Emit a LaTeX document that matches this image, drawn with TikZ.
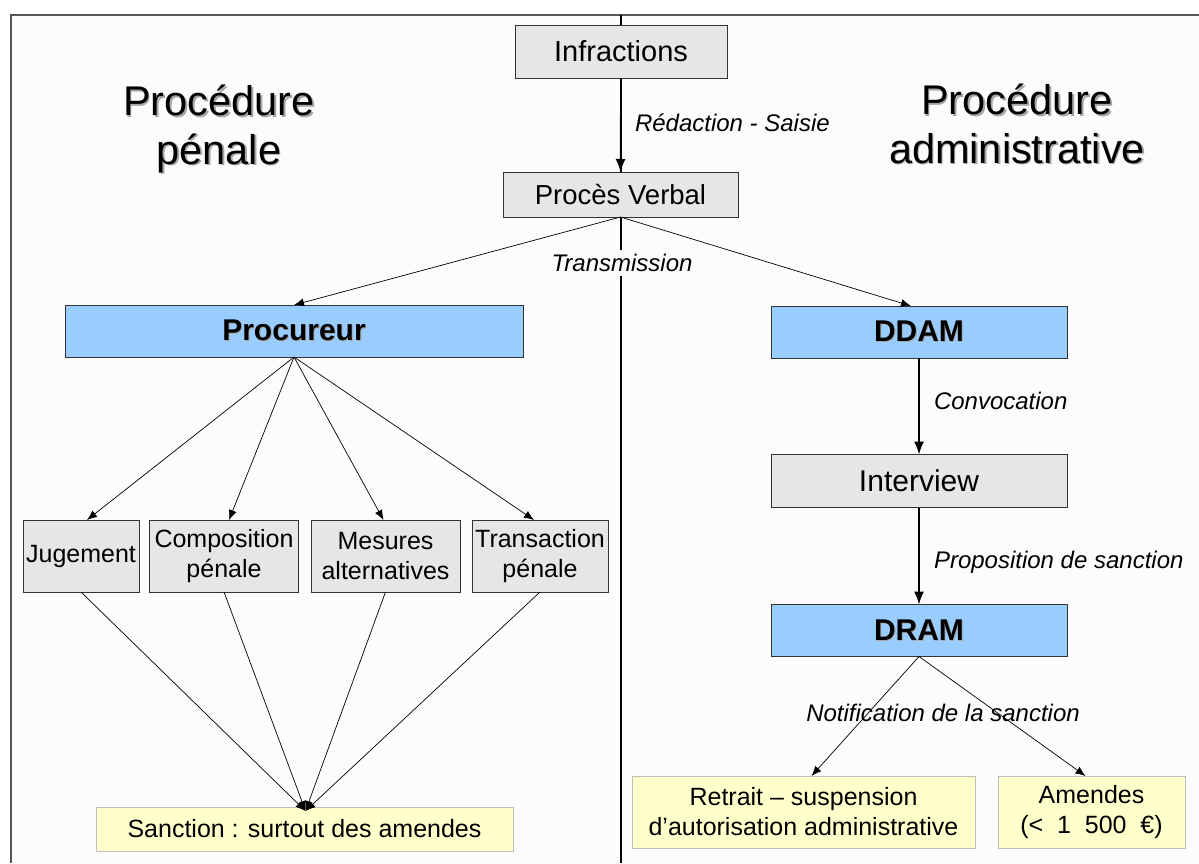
\documentclass[tikz,border=0pt]{standalone}
\usepackage{fontspec}
\setmainfont{Liberation Sans}
\usetikzlibrary{arrows.meta}
\definecolor{bg}{HTML}{FCFCFC}
\definecolor{boxgray}{HTML}{E6E6E6}
\definecolor{boxblue}{HTML}{99CCFF}
\definecolor{boxyellow}{HTML}{FFFFCC}
\definecolor{frameline}{HTML}{555555}
\newcommand\shtext[2][1.5pt]{\leavevmode\rlap{\kern#1\raisebox{-#1}{\color{black!35}#2}}#2}
\tikzset{
  every node/.style={inner sep=0pt, outer sep=0pt},
  basebox/.style={draw=black!80, line width=0.9pt, align=center},
  graybox/.style={basebox, fill=boxgray},
  bluebox/.style={basebox, fill=boxblue, font=\fontsize{30}{34}\selectfont\bfseries},
  yellowbox/.style={draw=black!25, line width=0.9pt, fill=boxyellow, align=center, font=\fontsize{25}{30}\selectfont},
  smalltxt/.style={font=\fontsize{25}{30}\selectfont},
  lbl/.style={font=\fontsize{24}{28}\selectfont\itshape},
  titletxt/.style={align=center, anchor=base, font=\fontsize{41.5}{48.5}\selectfont},
  arr/.style={-{Latex[length=10pt,width=8pt]}, line width=0.7pt},
  varr/.style={-{Latex[length=13pt,width=10pt]}, line width=1.6pt},
  divider/.style={line width=2pt, black},
  frame/.style={line width=2pt, frameline}
}
\begin{document}
\begin{tikzpicture}[x=1pt, y=-1pt]
\useasboundingbox (0,0) rectangle (1199,863);
\fill[white] (0,0) rectangle (1199,863);
\fill[bg] (11,15) rectangle (1199,863);
\coordinate (ftl) at (11,15);
\coordinate (ftr) at (1199,15);
\coordinate (fbl) at (11,863);
\coordinate (dtop) at (621,15);
\coordinate (dbot) at (621,863);
\draw[frame] (fbl) -- (ftl) -- (ftr);
\draw[divider] (dtop) -- (dbot);

% titles
\node[titletxt] (tpen) at (219,164) {\shtext{Procédure}\\\shtext{pénale}};
\node[titletxt] (tadm) at (1017,163) {\shtext{Procédure}\\\shtext{administrative}};

% top boxes
\node[graybox, minimum width=212pt, minimum height=53pt, font=\fontsize{29}{34}\selectfont] (inf) at (621,51.5) {Infractions};
\node[graybox, minimum width=235pt, minimum height=45pt, font=\fontsize{27.5}{32}\selectfont] (pv) at (620.5,194.5) {Procès Verbal};

% blue boxes
\node[bluebox, minimum width=458pt, minimum height=52pt] (proc) at (294,331) {\shtext[1pt]{Procureur}};
\node[bluebox, minimum width=296pt, minimum height=52pt] (ddam) at (919,332) {\shtext[1pt]{DDAM}};
\node[graybox, minimum width=296pt, minimum height=53pt, font=\fontsize{30}{34}\selectfont] (intv) at (919,481) {Interview};
\node[bluebox, minimum width=296pt, minimum height=52pt] (dram) at (919,630.5) {\shtext[1pt]{DRAM}};

% penal boxes
\node[graybox, smalltxt, minimum width=116pt, minimum height=72pt] (jug) at (81,556) {Jugement};
\node[graybox, smalltxt, minimum width=149pt, minimum height=72pt] (comp) at (224,556) {Composition\\pénale};
\node[graybox, smalltxt, minimum width=149pt, minimum height=72pt] (mes) at (385.5,556) {Mesures\\alternatives};
\node[graybox, smalltxt, minimum width=136pt, minimum height=72pt] (trans) at (540,556) {Transaction\\pénale};

% yellow boxes
\node[yellowbox, minimum width=417pt, minimum height=44pt] (sanc) at (304.5,829) {Sanction : surtout des amendes};
\node[yellowbox, minimum width=343pt, minimum height=72pt] (retr) at (803.5,812) {Retrait – suspension\\d’autorisation administrative};
\node[yellowbox, minimum width=187pt, minimum height=72pt] (amen) at (1091.5,812) {Amendes\\(<~~1~~500~~€)};

% connectors
\draw[varr] (inf.south) -- (pv.north);
\node[lbl, anchor=west] (lred) at (635,123) {Rédaction - Saisie};

\draw[arr] (pv.south) -- (proc.north);
\draw[arr] (pv.south) -- ([xshift=-8pt]ddam.north);
\node[lbl, fill=bg, inner ysep=4pt, inner xsep=1pt] (ltr) at (622,263) {Transmission};

\draw[arr] (proc.south) -- ([xshift=6pt]jug.north);
\draw[arr] (proc.south) -- ([xshift=5pt]comp.north);
\draw[arr] (proc.south) -- ([xshift=-2pt]mes.north);
\draw[arr] (proc.south) -- ([xshift=-6pt]trans.north);

\coordinate (sconv) at ([xshift=1pt, yshift=-4pt]sanc.north);
\draw[arr] (jug.south) -- (sconv);
\draw[arr] (comp.south) -- (sconv);
\draw[arr] (mes.south) -- (sconv);
\draw[arr] (trans.south) -- (sconv);

\draw[varr] (ddam.south) -- (intv.north);
\node[lbl, anchor=west] (lconv) at (934,401) {Convocation};
\draw[varr] (intv.south) -- (dram.north);
\node[lbl, anchor=west] (lprop) at (934,562) {Proposition de sanction};

\draw[arr] (dram.south) -- ([xshift=8pt]retr.north);
\draw[arr] (dram.south) -- ([xshift=-6pt]amen.north);
\node[lbl] (lnot) at (943,713) {Notification de la sanction};
\end{tikzpicture}
\end{document}
